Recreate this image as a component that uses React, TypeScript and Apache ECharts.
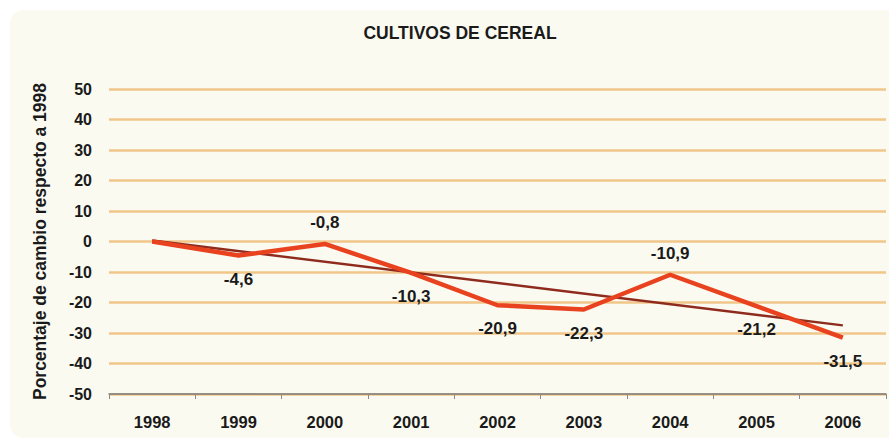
import React, { useEffect, useRef } from "react";
import * as echarts from "echarts";

const titleText = "CULTIVOS DE CEREAL";
const yAxisName = "Porcentaje de cambio respecto a 1998";
const years = ["1998", "1999", "2000", "2001", "2002", "2003", "2004", "2005", "2006"];
const changeValues = [0, -4.6, -0.8, -10.3, -20.9, -22.3, -10.9, -21.2, -31.5];
const trendYears = ["1998", "2006"];
const trendValues = [0.3, -27.5];
const labelsAbove = ["2000", "2004"];

const FONT = "'Liberation Sans', Arial, Helvetica, sans-serif";

export default function App() {
  const ref = useRef<HTMLDivElement>(null);
  useEffect(() => {
    if (!ref.current) return;
    const chart = echarts.init(ref.current, null, { renderer: "svg" });
    const mainData = changeValues.map((v, i) => {
      const above = labelsAbove.includes(years[i]);
      return {
        value: v,
        label: {
          show: i > 0,
          position: above ? "top" : "bottom",
          distance: above ? 12 : 14,
        },
      };
    });
    chart.setOption({
      animation: false,
      backgroundColor: "#ffffff",
      graphic: [
        {
          type: "rect",
          shape: { x: 10, y: 10, width: 890, height: 428, r: 14 },
          style: { fill: "#fbfaf1" },
          z: -10,
          silent: true,
        },
        {
          type: "text",
          x: 460,
          y: 33,
          style: {
            text: titleText,
            fontFamily: FONT,
            fontWeight: "bold",
            fontSize: 17.5,
            fill: "#1a1a1a",
            align: "center",
            verticalAlign: "middle",
          },
        },
      ],
      grid: { left: 109, right: 3, top: 89, bottom: 47 },
      xAxis: {
        type: "category",
        data: years,
        boundaryGap: true,
        axisLine: { show: true, onZero: false, lineStyle: { color: "#7a7a7a", width: 1.5 } },
        axisTick: { show: true, length: 5, lineStyle: { color: "#8a8a8a" } },
        axisLabel: {
          margin: 19,
          fontFamily: FONT,
          fontWeight: "bold",
          fontSize: 16.5,
          color: "#1a1a1a",
        },
        splitLine: { show: false },
      },
      yAxis: {
        type: "value",
        min: -50,
        max: 50,
        interval: 10,
        name: yAxisName,
        nameLocation: "middle",
        nameRotate: 90,
        nameGap: 60,
        nameTextStyle: {
          fontFamily: FONT,
          fontWeight: "bold",
          fontSize: 17.5,
          color: "#1a1a1a",
        },
        axisLine: { show: false },
        axisTick: { show: false },
        axisLabel: {
          margin: 17,
          fontFamily: FONT,
          fontWeight: "bold",
          fontSize: 16,
          color: "#1a1a1a",
        },
        splitLine: { show: true, lineStyle: { color: "#f0c68a", width: 2.5 } },
      },
      series: [
        {
          type: "line",
          data: trendYears.map((y, i) => [y, trendValues[i]]),
          symbol: "none",
          lineStyle: { color: "#8e2b1d", width: 2.5 },
          z: 2,
        },
        {
          type: "line",
          data: mainData,
          symbol: "circle",
          symbolSize: 2,
          showSymbol: true,
          showAllSymbol: true,
          itemStyle: { color: "rgba(232,66,31,0)", borderWidth: 0 },
          lineStyle: { color: "#e8421f", width: 4.5 },
          label: {
            show: true,
            fontFamily: FONT,
            fontWeight: "bold",
            fontSize: 17,
            color: "#1a1a1a",
            formatter: (p: any) => String(p.value).replace(".", ","),
          },
          z: 3,
        },
      ],
    });
    return () => chart.dispose();
  }, []);
  return (
    <div
      ref={ref}
      style={{ position: "fixed", left: 0, top: 0, width: 889, height: 441 }}
    />
  );
}
